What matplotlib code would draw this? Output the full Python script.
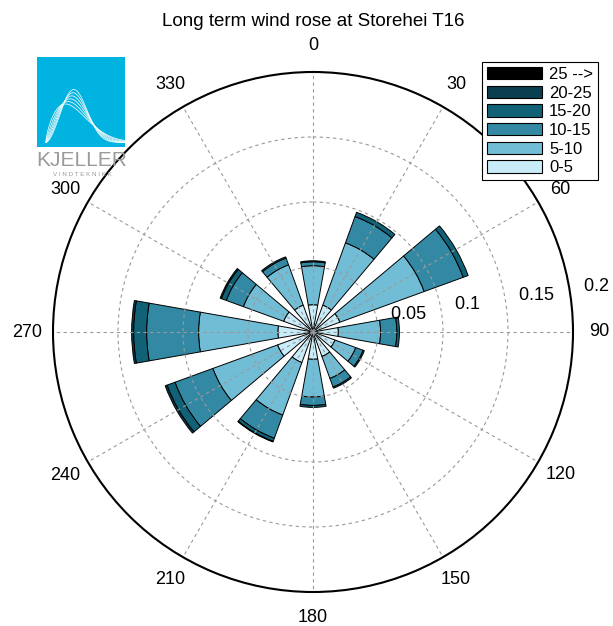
import numpy as np
import matplotlib
matplotlib.use("Agg")
import matplotlib.pyplot as plt
from matplotlib.patches import Patch, Rectangle

plt.rcParams['font.family'] = ['Liberation Sans', 'DejaVu Sans']

# ---------------- data ----------------
directions = [0, 30, 60, 90, 120, 150, 180, 210, 240, 270, 300, 330]
dir_labels = ['0', '30', '60', '90', '120', '150', '180', '210', '240', '270', '300', '330']
speed_bins = ['0-5', '5-10', '10-15', '15-20', '20-25', '25 -->']

freq_0_5   = [0.021, 0.022, 0.022, 0.0195, 0.018, 0.020, 0.021, 0.025, 0.029, 0.027, 0.024, 0.022]
freq_5_10  = [0.030, 0.051, 0.069, 0.0325, 0.017, 0.018, 0.029, 0.043, 0.053, 0.061, 0.033, 0.033]
freq_10_15 = [0.003, 0.0215, 0.032, 0.0125, 0.006, 0.007, 0.0065, 0.019, 0.031, 0.040, 0.014, 0.0055]
freq_15_20 = [0.0008, 0.0035, 0.004, 0.002, 0.001, 0.001, 0.0015, 0.0025, 0.0065, 0.010, 0.004, 0.001]
freq_20_25 = [0.0, 0.0, 0.0, 0.0, 0.0, 0.0, 0.0, 0.0005, 0.0015, 0.0015, 0.001, 0.0]
freq_25_up = [0.0, 0.0, 0.0, 0.0, 0.0, 0.0, 0.0, 0.0, 0.0, 0.0, 0.0, 0.0]

radial_ticks = [0.05, 0.1, 0.15, 0.2]
bin_colors = ['#c8ecf8', '#72bdd6', '#3389a3', '#116277', '#0a3f50', '#000000']

series = [freq_0_5, freq_5_10, freq_10_15, freq_15_20, freq_20_25, freq_25_up]

# ---------------- figure ----------------
W, H = 613, 626
fig = plt.figure(figsize=(W / 100, H / 100), dpi=100)
cx, cy, R = 313, 332, 260
ax = fig.add_axes([(cx - R) / W, (H - cy - R) / H, 2 * R / W, 2 * R / H], projection='polar')
ax.set_theta_zero_location('N')
ax.set_theta_direction(-1)

theta = np.deg2rad(directions)
width = np.deg2rad(20)
bottom = np.zeros(len(directions))
for vals, col in zip(series, bin_colors):
    v = np.array(vals)
    m = v > 0
    if m.any():
        ax.bar(theta[m], v[m], width=width, bottom=bottom[m], color=col, edgecolor='black',
               linewidth=0.7, align='center')
    bottom += v

ax.set_ylim(0, 0.2)
ax.set_yticks(radial_ticks[:-1])
ax.set_yticklabels([])
ax.set_xticks(theta)
ax.set_xticklabels([])
ax.tick_params(length=0)
ax.grid(True, linestyle=(0, (3, 3)), color='#9a9a9a', linewidth=0.8)
ax.spines['polar'].set_linewidth(1.5)
ax.spines['polar'].set_color('black')

# angle labels
for t, lab in zip(theta, dir_labels):
    ax.text(t, 0.22, lab, ha='center', va='center', fontsize=13, clip_on=False)

# radial labels
for rv in radial_ticks:
    ax.text(np.deg2rad(82), rv + 0.0025, '  ' + ('%g' % rv), ha='left', va='bottom',
            fontsize=13, clip_on=False)

fig.text(cx / W, 1 - 22 / H, 'Long term wind rose at Storehei T16', ha='center', va='center',
         fontsize=13.5)

# legend
handles = [Patch(facecolor=c, edgecolor='black', linewidth=0.8) for c in bin_colors][::-1]
labels = speed_bins[::-1]
leg = fig.legend(handles, labels, loc='upper right', bbox_to_anchor=(598 / W, 1 - 62 / H),
                 fontsize=12, handlelength=3.3, handleheight=0.75, labelspacing=0.22,
                 handletextpad=0.4, borderpad=0.3, fancybox=False, framealpha=1,
                 edgecolor='black', borderaxespad=0)
leg.get_frame().set_linewidth(0.8)

# logo
lax = fig.add_axes([37 / W, 1 - 147 / H, 88 / W, 90 / H])
lax.add_patch(Rectangle((0, 0), 1, 1, color='#00b3e0'))
xx = np.linspace(0.001, 1, 200)
for k in [1.7, 1.9, 2.1, 2.3, 2.5, 2.7]:
    s = 0.42
    z = xx / s
    y = (k / s) * z ** (k - 1) * np.exp(-z ** k)
    lax.plot(0.1 + xx * 0.9, 0.05 + y * 0.23, color='white', lw=0.6, alpha=0.9)
lax.set_xlim(0, 1)
lax.set_ylim(0, 1)
lax.axis('off')
fig.text(82 / W, 1 - 160 / H, 'KJELLER', ha='center', va='center', fontsize=15,
         color='#9a9a9a')
fig.text(82 / W, 1 - 175 / H, 'V I N D T E K N I K K', ha='center', va='center', fontsize=4.5,
         color='#9a9a9a')

fig.savefig('out.png', dpi=100)
